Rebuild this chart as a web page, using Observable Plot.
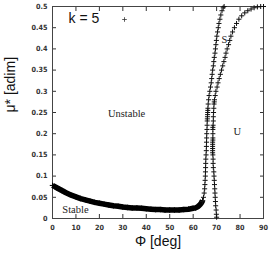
<!DOCTYPE html>
<html><head><meta charset="utf-8">
<script src="https://cdn.jsdelivr.net/npm/d3@7"></script>
<script src="https://cdn.jsdelivr.net/npm/@observablehq/plot@0.6"></script>
<style>body{margin:0;background:#fff}#chart svg{display:block}</style>
</head><body><div id="chart"></div>
<script>
// Tick values
const xTicks = [0, 10, 20, 30, 40, 50, 60, 70, 80, 90];
const yTicks = [0, 0.05, 0.1, 0.15, 0.2, 0.25, 0.3, 0.35, 0.4, 0.45, 0.5];

// Stable branch, dense (flat) part: Phi [deg], mu*
const flatPhi = [0, 1, 2, 3, 4, 5, 6, 8, 10, 12, 14, 16, 18, 20, 22, 24, 26, 28, 30, 32, 34, 36, 38, 40, 42, 44, 46, 48, 50, 52, 54, 56, 58, 60, 61, 62, 63, 63.5, 64];
const flatMu  = [0.078, 0.075, 0.072, 0.069, 0.066, 0.063, 0.060, 0.055, 0.051, 0.047, 0.044, 0.041, 0.038, 0.036, 0.034, 0.032, 0.030, 0.029, 0.027, 0.026, 0.025, 0.025, 0.024, 0.023, 0.022, 0.021, 0.021, 0.020, 0.020, 0.020, 0.020, 0.021, 0.022, 0.024, 0.025, 0.028, 0.033, 0.037, 0.042];

// "S" branch, steep part
const sPhi = [64.0, 64.4, 64.7, 64.9, 65.0, 65.1, 65.2, 65.25, 65.3, 65.35, 65.4, 65.5, 65.6, 65.65, 65.7, 65.75, 65.8, 65.9, 65.95, 66.0, 66.05, 66.1, 66.15, 66.2, 66.25, 66.3, 66.4, 66.6, 66.8, 67.1, 67.4, 67.7, 67.9, 68.1, 68.3, 68.6, 68.8, 69.0, 69.3, 69.5, 69.7, 69.9, 70.1, 70.4, 70.7, 71.0, 71.4, 71.8, 72.3, 72.8, 73.2];
const sMu  = [0.040, 0.050, 0.060, 0.070, 0.080, 0.090, 0.100, 0.110, 0.120, 0.130, 0.140, 0.150, 0.160, 0.170, 0.180, 0.190, 0.200, 0.210, 0.220, 0.230, 0.235, 0.240, 0.245, 0.250, 0.255, 0.260, 0.270, 0.280, 0.290, 0.300, 0.310, 0.320, 0.330, 0.340, 0.350, 0.360, 0.370, 0.380, 0.390, 0.400, 0.410, 0.420, 0.430, 0.440, 0.450, 0.460, 0.470, 0.480, 0.490, 0.497, 0.500];

// "U" branch
const uPhi = [70.0, 69.9, 69.8, 69.6, 69.5, 69.4, 69.3, 69.2, 69.1, 69.0, 68.9, 68.8, 68.6, 68.5, 68.5, 68.4, 68.3, 68.3, 68.3, 68.3, 68.3, 68.3, 68.4, 68.4, 68.4, 68.4, 68.4, 68.5, 68.6, 68.6, 68.7, 68.8, 68.9, 69.0, 69.1, 69.4, 69.7, 70.2, 70.6, 71.1, 71.6, 72.1, 72.6, 73.1, 73.6, 74.0, 74.5, 75.1, 75.6, 76.1, 76.8, 77.6, 78.5, 79.5, 80.7, 82.0, 83.3, 84.7, 86.0, 87.4, 88.8, 90.0];
const uMu  = [0.003, 0.010, 0.020, 0.030, 0.040, 0.050, 0.060, 0.070, 0.080, 0.090, 0.100, 0.110, 0.120, 0.130, 0.140, 0.150, 0.155, 0.160, 0.165, 0.170, 0.175, 0.180, 0.185, 0.190, 0.200, 0.210, 0.215, 0.220, 0.230, 0.240, 0.250, 0.260, 0.270, 0.275, 0.280, 0.290, 0.300, 0.310, 0.320, 0.330, 0.340, 0.350, 0.360, 0.370, 0.380, 0.390, 0.400, 0.410, 0.420, 0.430, 0.440, 0.450, 0.460, 0.470, 0.478, 0.485, 0.490, 0.494, 0.497, 0.499, 0.500, 0.500];

// Annotations
const noteText = ["Unstable", "S", "U", "Stable"];
const notePhi  = [31.6, 73.3, 78.8, 9.8];
const noteMu   = [0.248, 0.421, 0.204, 0.021];
const keyText = "k = 5";
const xLabel = "Φ [deg]";
const yLabel = "μ* [adim]";

const flat = flatPhi.map((p, i) => ({phi: p, mu: flatMu[i]}));
const sBranch = sPhi.map((p, i) => ({phi: p, mu: sMu[i]}));
const uBranch = uPhi.map((p, i) => ({phi: p, mu: uMu[i]}));
const notes = noteText.map((t, i) => ({t, phi: notePhi[i], mu: noteMu[i]}));

const tickFont = {fontFamily: "DejaVu Sans Condensed, DejaVu Sans", fontSize: 7.2, fontWeight: "bold"};
const fmtY = d => String(+d.toFixed(2));
const blank = () => "";

const chart = Plot.plot({
  width: 275,
  height: 260,
  marginLeft: 52,
  marginRight: 12,
  marginTop: 6,
  marginBottom: 42,
  style: {fontFamily: "Liberation Sans, Arial, sans-serif", background: "#fff"},
  x: {domain: [0, 90], ticks: xTicks},
  y: {domain: [0, 0.5], ticks: yTicks},
  marks: [
    Plot.axisX(xTicks, {anchor: "bottom", tickSize: -4, tickPadding: 10, tickFormat: d => d, label: null, color: "#333", ...tickFont}),
    Plot.axisX(xTicks, {anchor: "top", tickSize: -4, tickFormat: blank, label: null, color: "#333"}),
    Plot.axisY(yTicks, {anchor: "left", tickSize: -4, tickPadding: 9, tickFormat: fmtY, label: null, color: "#333", ...tickFont}),
    Plot.axisY(yTicks, {anchor: "right", tickSize: -4, tickFormat: blank, label: null, color: "#333"}),
    Plot.frame({stroke: "#444"}),
    Plot.line(flat, {x: "phi", y: "mu", stroke: "#000", strokeWidth: 5.5, strokeLinecap: "butt"}),
    Plot.dot(flat, {x: "phi", y: "mu", symbol: "plus", r: 1.9, stroke: "#000", strokeWidth: 1}),
    Plot.dot(sBranch, {x: "phi", y: "mu", symbol: "plus", r: 1.75, stroke: "#111", strokeWidth: 1}),
    Plot.dot(uBranch, {x: "phi", y: "mu", symbol: "plus", r: 1.75, stroke: "#111", strokeWidth: 1}),
    Plot.text(notes, {x: "phi", y: "mu", text: "t", fontFamily: "Liberation Serif, Times New Roman, serif", fontSize: 10.5, fill: "#222"}),
    Plot.text([keyText], {frameAnchor: "top-left", text: d => d, dx: 16, dy: 7, lineAnchor: "top", textAnchor: "start", fontSize: 14, fill: "#111"}),
    Plot.dot([keyText], {frameAnchor: "top-left", dx: 72, dy: 13, symbol: "plus", r: 1.6, stroke: "#333", strokeWidth: 0.8}),
    Plot.text([xLabel], {frameAnchor: "bottom", text: d => d, dy: 27, fontSize: 14, fill: "#111"}),
    Plot.text([yLabel], {frameAnchor: "left", text: d => d, dx: -42, rotate: -90, fontSize: 14, fill: "#111"})
  ]
});
document.getElementById("chart").appendChild(chart);
</script>
</body></html>
